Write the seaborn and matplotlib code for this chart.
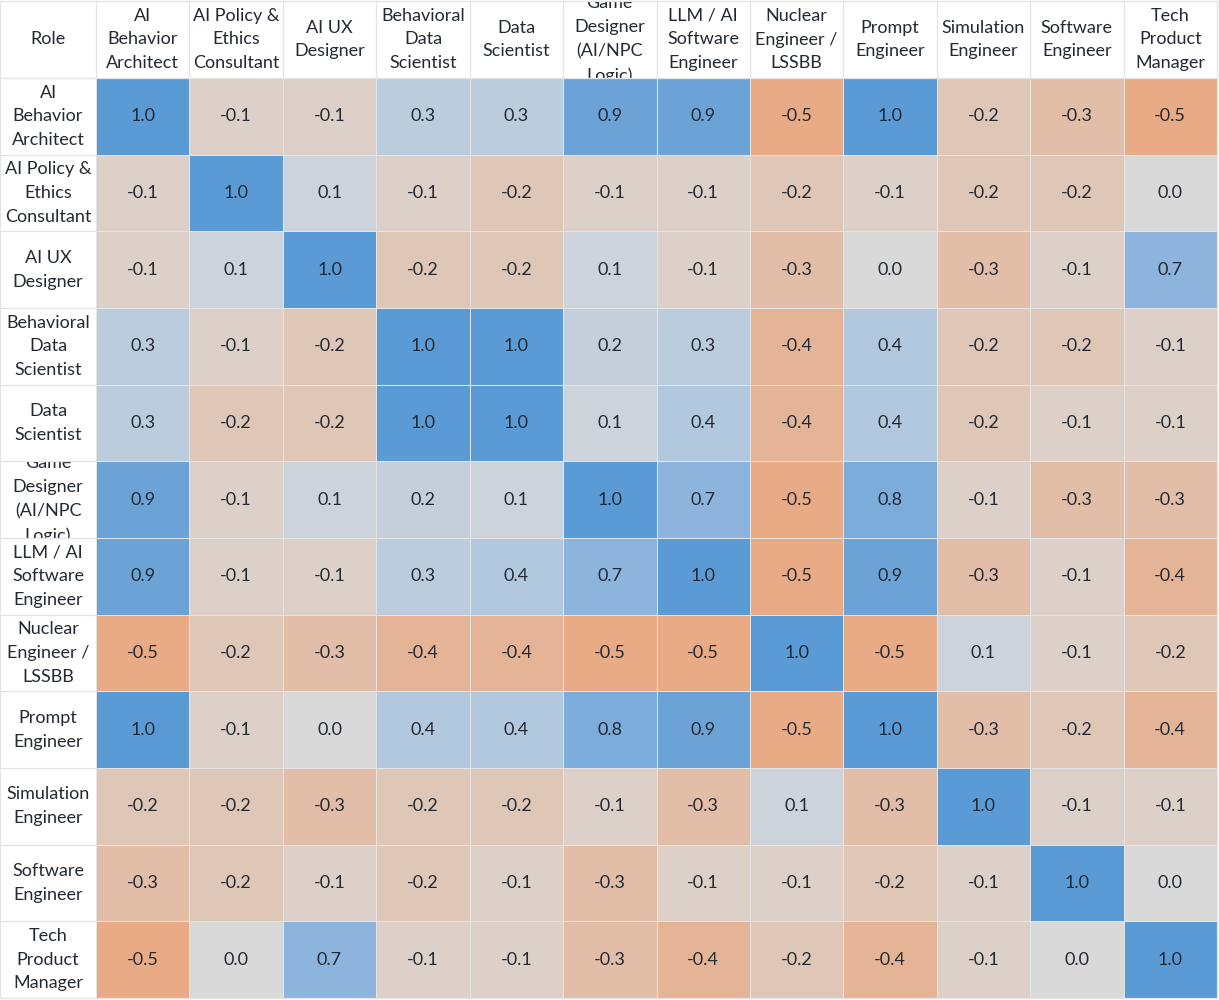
"""
Role-similarity correlation table styled like an Excel 3-colour scale.
Saves the figure as out.png (1219x1000 px).
"""

import matplotlib
matplotlib.use("Agg")
import matplotlib.pyplot as plt
import numpy as np
import pandas as pd
import seaborn as sns
from matplotlib.colors import LinearSegmentedColormap
from matplotlib.patches import Rectangle

# ── Data ──────────────────────────────────────────────────────────────────────
roles = [
    "AI Behavior Architect",
    "AI Policy & Ethics Consultant",
    "AI UX Designer",
    "Behavioral Data Scientist",
    "Data Scientist",
    "Game Designer (AI/NPC Logic)",
    "LLM / AI Software Engineer",
    "Nuclear Engineer / LSSBB",
    "Prompt Engineer",
    "Simulation Engineer",
    "Software Engineer",
    "Tech Product Manager",
]

# wrapped versions, as they appear in the table cells
role_labels = [
    "AI\nBehavior\nArchitect",
    "AI Policy &\nEthics\nConsultant",
    "AI UX\nDesigner",
    "Behavioral\nData\nScientist",
    "Data\nScientist",
    "Game\nDesigner\n(AI/NPC\nLogic)",
    "LLM / AI\nSoftware\nEngineer",
    "Nuclear\nEngineer /\nLSSBB",
    "Prompt\nEngineer",
    "Simulation\nEngineer",
    "Software\nEngineer",
    "Tech\nProduct\nManager",
]

corr_rows = [
    [1.0, -0.1, -0.1, 0.3, 0.3, 0.9, 0.9, -0.5, 1.0, -0.2, -0.3, -0.5],
    [-0.1, 1.0, 0.1, -0.1, -0.2, -0.1, -0.1, -0.2, -0.1, -0.2, -0.2, 0.0],
    [-0.1, 0.1, 1.0, -0.2, -0.2, 0.1, -0.1, -0.3, 0.0, -0.3, -0.1, 0.7],
    [0.3, -0.1, -0.2, 1.0, 1.0, 0.2, 0.3, -0.4, 0.4, -0.2, -0.2, -0.1],
    [0.3, -0.2, -0.2, 1.0, 1.0, 0.1, 0.4, -0.4, 0.4, -0.2, -0.1, -0.1],
    [0.9, -0.1, 0.1, 0.2, 0.1, 1.0, 0.7, -0.5, 0.8, -0.1, -0.3, -0.3],
    [0.9, -0.1, -0.1, 0.3, 0.4, 0.7, 1.0, -0.5, 0.9, -0.3, -0.1, -0.4],
    [-0.5, -0.2, -0.3, -0.4, -0.4, -0.5, -0.5, 1.0, -0.5, 0.1, -0.1, -0.2],
    [1.0, -0.1, 0.0, 0.4, 0.4, 0.8, 0.9, -0.5, 1.0, -0.3, -0.2, -0.4],
    [-0.2, -0.2, -0.3, -0.2, -0.2, -0.1, -0.3, 0.1, -0.3, 1.0, -0.1, -0.1],
    [-0.3, -0.2, -0.1, -0.2, -0.1, -0.3, -0.1, -0.1, -0.2, -0.1, 1.0, 0.0],
    [-0.5, 0.0, 0.7, -0.1, -0.1, -0.3, -0.4, -0.2, -0.4, -0.1, 0.0, 1.0],
]

corr = pd.DataFrame(corr_rows, index=roles, columns=roles)

# ── Style ─────────────────────────────────────────────────────────────────────
VMIN, VMAX = -0.5, 1.0
TEXT_COLOR = "#232A33"
GRID_COLOR = "#E4E4E4"
FONT = ["Lato", "DejaVu Sans"]


def _pos(v):
    return (v - VMIN) / (VMAX - VMIN)


# orange -> grey -> blue, roughly Excel's colour scale
cmap = LinearSegmentedColormap.from_list(
    "excel_scale",
    [
        (_pos(-0.5), "#E8AB85"),
        (_pos(-0.25), "#E0C2AF"),
        (_pos(0.0), "#D9D9D9"),
        (_pos(0.1), "#CDD3DA"),
        (_pos(0.4), "#B2C8DE"),
        (_pos(0.7), "#8DB4DC"),
        (_pos(1.0), "#5B9BD5"),
    ],
)

sns.set_theme(style="white")
plt.rcParams["font.family"] = FONT

W, H = 1219, 1000
ROLE_W = 96       # px, first column
HEAD_H = 78       # px, header row
RIGHT = 1217
BOTTOM = 998

fig = plt.figure(figsize=(W / 100, H / 100), dpi=100)
fig.patch.set_facecolor("white")
ax = fig.add_axes([
    ROLE_W / W, 1 - BOTTOM / H,
    (RIGHT - ROLE_W) / W, (BOTTOM - HEAD_H) / H,
])

sns.heatmap(
    corr, ax=ax, cmap=cmap, vmin=VMIN, vmax=VMAX,
    annot=True, fmt=".1f", cbar=False,
    linewidths=0.6, linecolor=GRID_COLOR,
    annot_kws={"size": 13, "color": TEXT_COLOR, "family": FONT},
    xticklabels=False, yticklabels=False,
)
ax.set_xlabel("")
ax.set_ylabel("")
for s in ax.spines.values():
    s.set_visible(False)

n = len(roles)
cell_w = (RIGHT - ROLE_W) / n
cell_h = (BOTTOM - HEAD_H) / n
role_span = ROLE_W / cell_w          # role column width in data units
head_span = (HEAD_H - 1) / cell_h    # header height in data units


def _cell_text(x0, y0, w, h, label):
    # text clipped to its own cell, like an over-full spreadsheet cell
    clip = Rectangle((x0, y0), w, h, transform=ax.transData)
    t = ax.text(
        x0 + w / 2, y0 + h / 2, label,
        ha="center", va="center", ma="center",
        fontsize=13, color=TEXT_COLOR, linespacing=1.6,
        clip_on=True,
    )
    t.set_clip_path(clip)
    return t


# header row
_cell_text(-role_span, -head_span, role_span, head_span, "Role")
for j, lab in enumerate(role_labels):
    _cell_text(j, -head_span, 1, head_span, lab)

# role column
for i, lab in enumerate(role_labels):
    _cell_text(-role_span, i, role_span, 1, lab)

# ── Grid lines for the white header / role cells ─────────────────────────────
line_kw = dict(color=GRID_COLOR, lw=0.9, clip_on=False, zorder=3)
for j in range(n + 1):
    ax.plot([j, j], [-head_span, 0], **line_kw)
ax.plot([-role_span, -role_span], [-head_span, n], **line_kw)
for i in range(n + 1):
    ax.plot([-role_span, 0], [i, i], **line_kw)
ax.plot([-role_span, n], [-head_span, -head_span], **line_kw)
ax.plot([-role_span, n], [0, 0], **line_kw)
ax.plot([-role_span, n], [n, n], **line_kw)
ax.plot([n, n], [-head_span, n], **line_kw)

fig.savefig("out.png", dpi=100, facecolor="white")
plt.close(fig)
